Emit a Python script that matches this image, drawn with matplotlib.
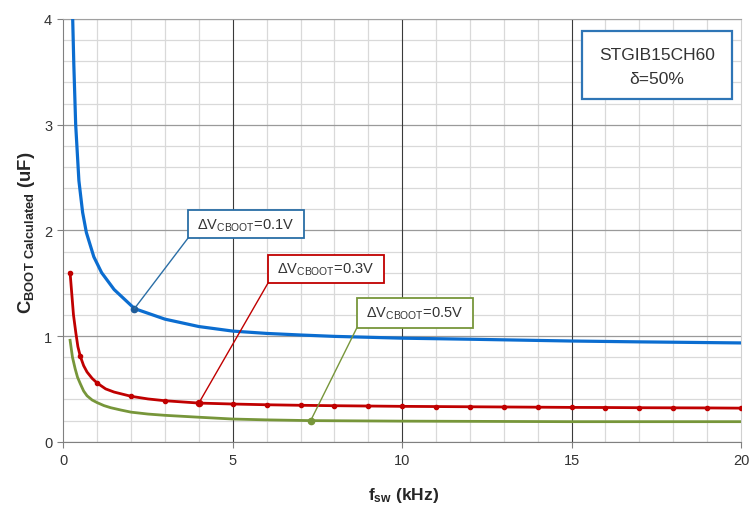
import matplotlib
matplotlib.use('Agg')
import matplotlib.pyplot as plt
from matplotlib.patches import Rectangle
from matplotlib.ticker import MultipleLocator

plt.rcParams['font.family'] = ['Liberation Sans', 'DejaVu Sans']
plt.rcParams['mathtext.fontset'] = 'custom'
plt.rcParams['mathtext.rm'] = 'Liberation Sans'
plt.rcParams['mathtext.bf'] = 'Liberation Sans:bold'

# values (kHz, uF)
f_01 = [0.277, 0.31, 0.365, 0.46, 0.57, 0.68, 0.9, 1.13, 1.5, 2.1, 3, 4, 5, 6, 7, 8,
        10, 12, 15, 17, 20]
c_01 = [4.0, 3.57, 3.0, 2.47, 2.17, 1.98, 1.75, 1.6, 1.44, 1.26, 1.16, 1.09, 1.047, 1.025,
        1.01, 0.997, 0.98, 0.97, 0.953, 0.945, 0.935]

f_03 = [0.2, 0.25, 0.3, 0.37, 0.43, 0.5, 0.6, 0.7, 0.85, 1, 1.25, 1.5, 2, 2.5, 3, 4, 5,
        6, 7, 8, 9, 10, 11, 12, 13, 14, 15, 16, 17, 18, 19, 20]
c_03 = [1.60, 1.4, 1.2, 1.03, 0.9, 0.81, 0.72, 0.66, 0.6, 0.555, 0.5, 0.47, 0.43, 0.405,
        0.388, 0.366, 0.357, 0.35, 0.345, 0.341, 0.338, 0.335, 0.333, 0.331, 0.329, 0.327,
        0.325, 0.324, 0.322, 0.321, 0.32, 0.318]
# red curve carries a marker at these frequencies
mark_f_03 = [0.2, 0.5] + list(range(1, 21))

f_05 = [0.2, 0.27, 0.35, 0.42, 0.5, 0.6, 0.7, 0.85, 1.0, 1.2, 1.4, 1.7, 2, 2.5, 3, 4, 5,
        6, 7.3, 10, 15, 20]
c_05 = [0.96, 0.8, 0.69, 0.61, 0.55, 0.48, 0.435, 0.395, 0.37, 0.342, 0.322, 0.3, 0.28,
        0.262, 0.25, 0.232, 0.215, 0.207, 0.2, 0.195, 0.19, 0.19]

# frequency each callout points to
tip_f = [2.1, 4, 7.3]

labels = ['ΔV$_{\\mathregular{CBOOT}}$=0.1V', 'ΔV$_{\\mathregular{CBOOT}}$=0.3V',
          'ΔV$_{\\mathregular{CBOOT}}$=0.5V']

BLUE, RED, GREEN = '#0B6DD0', '#C00000', '#77963A'

fig = plt.figure(figsize=(7.51, 5.06), dpi=100)
ax = fig.add_axes([0.0843, 0.125, 0.9024, 0.8355])

ax.set_xlim(0, 20)
ax.set_ylim(0, 4)
ax.xaxis.set_major_locator(MultipleLocator(5))
ax.xaxis.set_minor_locator(MultipleLocator(1))
ax.yaxis.set_major_locator(MultipleLocator(1))
ax.yaxis.set_minor_locator(MultipleLocator(0.2))
ax.grid(which='minor', color='#D9D9D9', lw=0.9)
ax.grid(which='major', axis='y', color='#9A9A9A', lw=0.9)
ax.set_axisbelow(True)
for xv in [5, 10, 15]:
    ax.axvline(xv, color='#3A3A3A', lw=0.8, zorder=1)
ax.tick_params(which='major', length=4, color='#808080', labelsize=10.5, labelcolor='#333333', pad=4)
ax.tick_params(which='minor', length=0)
for s in ['left', 'bottom']:
    ax.spines[s].set_color('#808080')
ax.spines['top'].set_color('#A0A0A0')
ax.spines['right'].set_color('#D0D0D0')

marks_03 = [i for i, f in enumerate(f_03) if f in mark_f_03]
ax.plot(f_01, c_01, color=BLUE, lw=2.3, solid_capstyle='round', solid_joinstyle='round', zorder=3)
ax.plot(f_03, c_03, color=RED, lw=2.0, marker='o', ms=3, markevery=marks_03,
        solid_joinstyle='round', zorder=3)
ax.plot(f_05, c_05, color=GREEN, lw=2.0, solid_joinstyle='round', zorder=3)

tips = [(tip_f[0], c_01[f_01.index(tip_f[0])]),
        (tip_f[1], c_03[f_03.index(tip_f[1])]),
        (tip_f[2], c_05[f_05.index(tip_f[2])])]
tip_col = ['#1F5C99', RED, GREEN]
for (tx, ty), col in zip(tips, tip_col):
    ax.plot(tx, ty, 'o', color=col, ms=4.5, zorder=4)

# callout boxes (x0, y0, x1, y1 in data units)
boxes = [(3.68, 1.927, 7.10, 2.19), (6.04, 1.501, 9.46, 1.766), (8.66, 1.076, 12.08, 1.359)]
edge = ['#2A6EA6', RED, GREEN]
for (x0, y0, x1, y1), ec, (tx, ty), lab in zip(boxes, edge, tips, labels):
    ax.add_patch(Rectangle((x0, y0), x1 - x0, y1 - y0, fc='white', ec=ec, lw=1.3, zorder=5))
    ax.plot([x0, tx], [y0, ty], color=ec, lw=1.0, zorder=4)
    ax.text((x0 + x1) / 2, (y0 + y1) / 2, lab, ha='center', va='center',
            fontsize=10.5, color='#333333', zorder=6)

# device box
ax.add_patch(Rectangle((0.7655, 0.8107), 0.2215, 0.161, transform=ax.transAxes,
                       fc='white', ec='#2E75B6', lw=1.6, zorder=5))
ax.text(0.876, 0.915, 'STGIB15CH60', transform=ax.transAxes, ha='center', va='center',
        fontsize=12.5, color='#333333', zorder=6)
ax.text(0.876, 0.86, 'δ=50%', transform=ax.transAxes, ha='center', va='center',
        fontsize=12.5, color='#333333', zorder=6)

fig.text(0.035, 0.539, r'$\mathbf{C_{BOOT\ Calculated}}$ (uF)', rotation=90,
         ha='center', va='center', fontsize=13.3, fontweight='bold', color='#262626')
fig.text(0.538, 0.021, r'$\mathbf{f_{sw}}$ (kHz)', ha='center', va='center',
         fontsize=12.5, fontweight='bold', color='#262626')

fig.savefig('out.png', dpi=100, facecolor='white')
